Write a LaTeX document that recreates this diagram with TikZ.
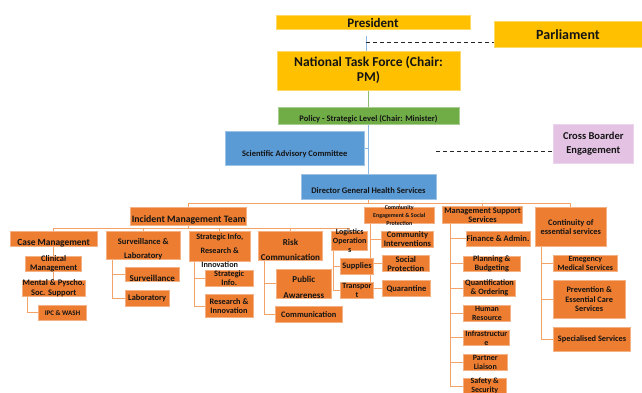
\documentclass[tikz,border=0pt]{standalone}
\usepackage{fontspec}
\setmainfont{Carlito}
\usetikzlibrary{positioning,calc,backgrounds}

\definecolor{gold}{HTML}{FFC000}
\definecolor{leaf}{HTML}{70AD47}
\definecolor{sky}{HTML}{5B9BD5}
\definecolor{lilac}{RGB}{228,194,228}
\definecolor{rust}{HTML}{ED7D31}
\definecolor{peach}{HTML}{F4B183}
\definecolor{wire}{RGB}{243,162,104}
\definecolor{ink}{RGB}{20,20,20}

\begin{document}
\begin{tikzpicture}[x=1pt, y=-1pt,
    box/.style={inner sep=0pt, line width=0.8pt},
    gbox/.style={box, fill=gold, draw=gold!60!white},
    lbox/.style={box, fill=leaf, draw=leaf!60!white},
    sbox/.style={box, fill=sky, draw=sky!60!white},
    pbox/.style={box, fill=lilac, draw=lilac!70!white},
    obox/.style={box, fill=rust, draw=peach},
    tx/.style 2 args={align=center, inner sep=0pt, text=ink,
                      font=\fontsize{#1}{#2}\selectfont\bfseries},
    low/.style={yshift=-4pt},
    oline/.style={draw=wire, line width=0.9pt},
    bline/.style={draw=sky!70!white, line width=0.8pt},
    gline/.style={draw=leaf!80!white, line width=0.8pt},
    dline/.style={draw=black!85, line width=1pt, dash pattern=on 4pt off 3pt},
  ]
  \useasboundingbox (0,0) rectangle (642,393);

  % governance levels
  \node[gbox, minimum width=194pt, minimum height=14pt, label={[tx={13}{14}]center:President}] (pres) at (373,22.7) {};
  \node[gbox, minimum width=148pt, minimum height=26.3pt, label={[tx={14}{15}]center:Parliament}] (parl) at (568,34.2) {};
  \node[gbox, minimum width=183pt, minimum height=39pt, label={[tx={13.5}{15}]center:{National Task Force (Chair:\\PM)}}] (ntf) at (368.5,70.5) {};
  \node[lbox, minimum width=181pt, minimum height=17pt, label={[tx={8.5}{9}, low]center:{Policy - Strategic Level (Chair: Minister)}}] (pol) at (368.5,115.5) {};
  \node[sbox, minimum width=138.3pt, minimum height=34pt, label={[tx={8.5}{9}, yshift=-5pt]center:Scientific Advisory Committee}] (sac) at (294.8,148.7) {};
  \node[sbox, minimum width=135pt, minimum height=24.7pt, label={[tx={8.5}{9}, low]center:Director General Health Services}] (dg) at (368.5,186.7) {};
  \node[pbox, minimum width=80pt, minimum height=39pt, label={[tx={10.5}{14}]center:{Cross Boarder\\Engagement}}] (cbe) at (593.3,143.8) {};

  % incident management team and its pillars
  \node[obox, minimum width=116pt, minimum height=17.3pt, label={[tx={9.8}{10}, low]center:Incident Management Team}] (imt) at (188.7,216.3) {};
  \node[obox, minimum width=87.3pt, minimum height=15pt, label={[tx={9.4}{10}, low]center:Case Management}] (cm) at (53.7,239.2) {};
  \node[obox, minimum width=56pt, minimum height=15pt, label={[tx={8.5}{9}]center:{Clinical\\Management}}] (clin) at (53.7,263.5) {};
  \node[obox, minimum width=62.7pt, minimum height=16.7pt, label={[tx={8.5}{9.3}]center:{Mental \& Pyscho.\\Soc. Support}}] (mhp) at (53.7,288.3) {};
  \node[obox, minimum width=48.3pt, minimum height=15.7pt, label={[tx={7}{8}]center:{IPC \& WASH}}] (ipc) at (62.5,312.8) {};
  \node[obox, minimum width=74.7pt, minimum height=27.3pt, label={[tx={8.5}{13.7}, low]center:{Surveillance \&\\Laboratory}}] (sl) at (143.3,245.3) {};
  \node[obox, minimum width=54.3pt, minimum height=14.3pt, label={[tx={9}{10}, low]center:Surveillance}] (surv) at (152.2,274.5) {};
  \node[obox, minimum width=44.3pt, minimum height=16pt, label={[tx={8.4}{9}]center:Laboratory}] (lab) at (147.2,298) {};
  \node[obox, minimum width=60.7pt, minimum height=29.3pt, label={[tx={8.2}{14}, low]center:{Strategic Info,\\Research \&\\Innovation}}] (sri) at (219.7,246.3) {};
  \node[obox, minimum width=48.3pt, minimum height=16pt, label={[tx={8.3}{9}]center:{Strategic\\Info.}}] (sinf) at (229.2,278) {};
  \node[obox, minimum width=48pt, minimum height=23.3pt, label={[tx={8.3}{9}]center:{Research \&\\Innovation}}] (rinn) at (229,306) {};
  \node[obox, minimum width=64.3pt, minimum height=28.3pt, label={[tx={9}{15}, low]center:{Risk\\Communication}}] (rc) at (290.5,245.8) {};
  \node[obox, minimum width=54.3pt, minimum height=29.3pt, label={[tx={9}{15.7}, low]center:{Public\\Awareness}}] (pa) at (303.8,283.7) {};
  \node[obox, minimum width=67.7pt, minimum height=16.3pt, label={[tx={8.4}{9}]center:Communication}] (comm) at (308.8,314.2) {};
  \node[obox, minimum width=36pt, minimum height=18.3pt, label={[tx={8}{8.7}]center:{Logistics\\Operation\\s}}] (lo) at (349.7,240.8) {};
  \node[obox, minimum width=32.7pt, minimum height=16pt, label={[tx={8.4}{9}]center:Supplies}] (sup) at (357,266.3) {};
  \node[obox, minimum width=32.7pt, minimum height=16pt, label={[tx={8}{9}]center:{Transpor\\t}}] (tra) at (357,290.3) {};

  % community engagement
  \node[obox, minimum width=70pt, minimum height=16pt, label={[tx={6}{7.7}]center:{Community\\Engagement \& Social\\Protection}}] (ce) at (399.3,215.3) {};
  \node[obox, minimum width=51.7pt, minimum height=15.7pt, label={[tx={8.5}{9}]center:{Community\\Interventions}}] (ci) at (407.5,239.5) {};
  \node[obox, minimum width=47pt, minimum height=16pt, label={[tx={8.5}{9}]center:{Social\\Protection}}] (sp) at (405.8,263.7) {};
  \node[obox, minimum width=48.3pt, minimum height=16pt, label={[tx={8.5}{9}]center:Quarantine}] (qua) at (406.5,288.7) {};

  % management support services
  \node[obox, minimum width=79.7pt, minimum height=16.7pt, label={[tx={8.4}{9}]center:{Management Support\\Services}}] (mss) at (482.5,215) {};
  \node[obox, minimum width=64pt, minimum height=15.7pt, label={[tx={8.5}{9}]center:{Finance \& Admin.}}] (fin) at (498,238.8) {};
  \node[obox, minimum width=56.7pt, minimum height=15.7pt, label={[tx={8.2}{9.3}]center:{Planning \&\\Budgeting}}] (plan) at (491.7,263.8) {};
  \node[obox, minimum width=52.3pt, minimum height=16.7pt, label={[tx={8.2}{9}]center:{Quantification\\\& Ordering}}] (quan) at (489.5,288.3) {};
  \node[obox, minimum width=47.3pt, minimum height=16pt, label={[tx={7.9}{9}]center:{Human\\Resource}}] (hr) at (487,313) {};
  \node[obox, minimum width=46pt, minimum height=15.7pt, label={[tx={8}{9}]center:{Infrastructur\\e}}] (inf) at (486.3,337.8) {};
  \node[obox, minimum width=44pt, minimum height=16pt, label={[tx={8}{9}]center:{Partner\\Liaison}}] (pl) at (485.3,362) {};
  \node[obox, minimum width=42.7pt, minimum height=16pt, label={[tx={8}{9}]center:{Safety \&\\Security}}] (ss) at (484.7,386.2) {};

  % continuity of essential services
  \node[obox, minimum width=70.3pt, minimum height=39.3pt, label={[tx={8.4}{9}]center:{Continuity of\\essential services}}] (ces) at (570.8,227) {};
  \node[obox, minimum width=64pt, minimum height=16pt, label={[tx={8}{9}]center:{Emegency\\Medical Services}}] (ems) at (585.3,263.7) {};
  \node[obox, minimum width=71.7pt, minimum height=38.3pt, label={[tx={8.3}{9.2}]center:{Prevention \&\\Essential Care\\Services}}] (pecs) at (589.2,299.2) {};
  \node[obox, minimum width=77.3pt, minimum height=24.3pt, label={[tx={8.3}{9}]center:Specialised Services}] (spec) at (592,339.5) {};

  \coordinate (ptop) at (366,36);
  \coordinate (pj) at (366,42.3);
  \coordinate (cbj) at (436,151.7);

  % connectors sit behind the boxes
  \begin{scope}[on background layer]
    \fill[white] (0,0) rectangle (642,393);
    \draw[bline] (ptop) -- (ptop |- ntf.north);
    \draw[dline] (pj) -- (pj -| parl.west);
    \draw[gline] (ntf.south) -- (pol.north);
    \draw[bline] (pol.south) -- (dg.north);
    \draw[bline] (sac.east) -- (sac.east -| dg.north);
    \draw[dline] (cbj) -- (cbj -| cbe.west);
    % DG bus
    \draw[oline] (dg.south) -- ++(0,4) coordinate (dgbus);
    \foreach \n in {imt,ce,mss,ces}
      \draw[oline] (dgbus) -| (\n.north);
    % IMT bus
    \draw[oline] (imt.south) -- ++(0,3.3) coordinate (imtbus);
    \foreach \n in {cm,sl,sri,rc,lo}
      \draw[oline] (imtbus) -| (\n.north);
    % branches
    \draw[oline] (cm.south) -- (clin.north);
    \draw[oline] (clin.south) -- (mhp.north);
    \foreach \p/\d/\c in {mhp/5.4/ipc, sl/6.7/surv, sl/6.7/lab, sri/5.7/sinf, sri/5.7/rinn,
        rc/6/pa, rc/6/comm, lo/2.3/sup, lo/2.3/tra, ce/6.4/ci, ce/6.4/sp, ce/6.4/qua,
        mss/8/fin, mss/8/plan, mss/8/quan, mss/8/hr, mss/8/inf, mss/8/pl, mss/8/ss,
        ces/6.6/ems, ces/6.6/pecs, ces/6.6/spec}
      \draw[oline] ($(\p.south west)+(\d,0)$) |- (\c.west);
  \end{scope}
\end{tikzpicture}
\end{document}
